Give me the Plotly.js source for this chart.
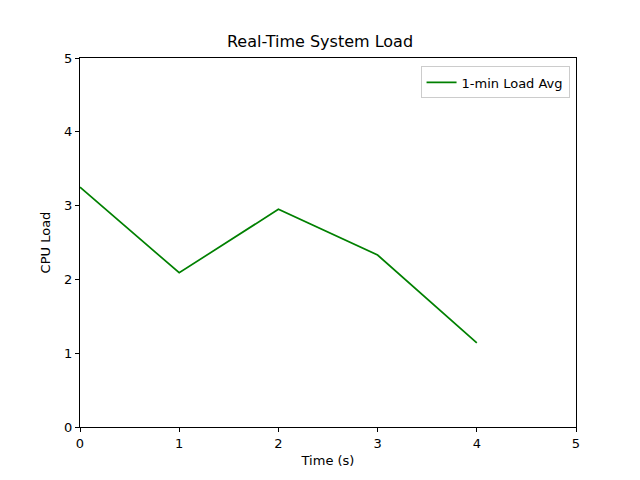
<!DOCTYPE html>
<html><head><script src="https://cdn.plot.ly/plotly-3.0.1.min.js"></script>
<style>body{margin:0}</style></head><body>
<div id="c" style="width:640px;height:480px"></div>
<script>
const timeS = [0, 1, 2, 3, 4];
const loadAvg = [3.25, 2.09, 2.95, 2.33, 1.14];
const ax = {range:[0,5], dtick:1, showgrid:false, zeroline:false, showline:true, mirror:true, linecolor:'black', linewidth:1, ticks:'outside', ticklen:4, tickcolor:'black', tickfont:{size:13}};
Plotly.newPlot('c', [{x:timeS, y:loadAvg, mode:'lines', name:'1-min Load Avg', line:{color:'green', width:1.7}}], {
  width:640, height:480, margin:{l:80, r:64, t:58, b:53},
  font:{family:'DejaVu Sans', color:'black', size:13},
  title:{text:'Real-Time System Load', x:0.5, xanchor:'center', y:0.925, font:{size:16}},
  xaxis:Object.assign({title:{text:'Time (s)', standoff:6, font:{size:13}}}, ax),
  yaxis:Object.assign({title:{text:'CPU Load', standoff:10, font:{size:13}}}, ax),
  showlegend:true,
  legend:{x:0.987, y:0.977, xanchor:'right', yanchor:'top', bordercolor:'#ccc', borderwidth:1, font:{size:13}, tracegroupgap:0, itemwidth:30},
  plot_bgcolor:'white', paper_bgcolor:'white'
}, {displayModeBar:false});
</script></body></html>
